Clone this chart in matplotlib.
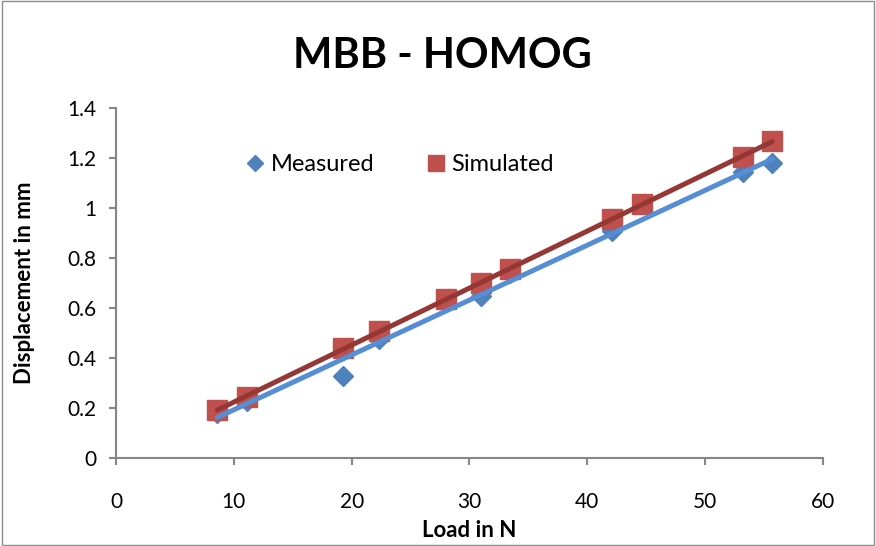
import numpy as np
import matplotlib
matplotlib.use("Agg")
import matplotlib.pyplot as plt
from matplotlib.patches import Rectangle

plt.rcParams['font.family'] = ['Lato', 'DejaVu Sans']

# Load (N) and displacement (mm)
measured_load = [8.6, 11.15, 19.3, 22.3, 31.0, 33.4, 42.1, 53.2, 55.7]
measured_disp = [0.18, 0.23, 0.33, 0.475, 0.65, 0.74, 0.91, 1.145, 1.18]

simulated_load = [8.6, 11.15, 19.3, 22.3, 28.0, 31.0, 33.4, 42.1, 44.6, 53.2, 55.7]
simulated_disp = [0.195, 0.245, 0.44, 0.51, 0.635, 0.70, 0.755, 0.955, 1.015, 1.205, 1.27]

x_ticks = [0, 10, 20, 30, 40, 50, 60]
y_ticks = [0, 0.2, 0.4, 0.6, 0.8, 1, 1.2, 1.4]
y_tick_labels = ['0', '0.2', '0.4', '0.6', '0.8', '1', '1.2', '1.4']

blue_mk = '#4F81BD'
red_mk = '#C0504D'
blue_ln = '#558ED5'
red_ln = '#953735'
axis_gray = '#868686'

fig = plt.figure(figsize=(8.76, 5.46), dpi=100)
fig.patches.append(Rectangle((0.002, 0.002), 0.996, 0.996, transform=fig.transFigure,
                             fill=False, edgecolor='#8C8C8C', linewidth=1.0))
ax = fig.add_axes([0.1324, 0.1606, 0.8071, 0.6416])

ax.plot(measured_load, measured_disp, linestyle='none', marker='D', markersize=10,
        color=blue_mk, label='Measured', zorder=3)
ax.plot(simulated_load, simulated_disp, linestyle='none', marker='s', markersize=14,
        color=red_mk, label='Simulated', zorder=4)

# Linear trendlines
for xs, ys, c in ((measured_load, measured_disp, blue_ln),
                  (simulated_load, simulated_disp, red_ln)):
    k, b = np.polyfit(xs, ys, 1)
    xx = np.array([min(xs), max(xs)])
    ax.plot(xx, k * xx + b, color=c, linewidth=3.6, solid_capstyle='round', zorder=5)

ax.set_xlim(0, 60)
ax.set_ylim(0, 1.4)
ax.set_xticks(x_ticks)
ax.set_yticks(y_ticks)
ax.set_yticklabels(y_tick_labels)
for s in ('top', 'right'):
    ax.spines[s].set_visible(False)
for s in ('left', 'bottom'):
    ax.spines[s].set_color(axis_gray)
    ax.spines[s].set_linewidth(1.5)
ax.tick_params(axis='both', direction='out', length=5, width=1.5, color=axis_gray,
               labelsize=15, labelcolor='black')
ax.tick_params(axis='x', pad=19)
ax.tick_params(axis='y', pad=9)

ax.set_xlabel('Load in N', fontsize=16, fontweight='bold')
ax.xaxis.set_label_coords(0.5, -0.175)
ax.set_ylabel('Displacement in mm', fontsize=16, fontweight='bold')
ax.yaxis.set_label_coords(-0.114, 0.5)
fig.text(0.505, 0.898, 'MBB - HOMOG', ha='center', va='center', fontsize=30, fontweight='bold')

ax.legend(loc='upper left', bbox_to_anchor=(0.147, 0.93), ncol=2, frameon=False,
          fontsize=17, columnspacing=2.0, handletextpad=0.05, handlelength=1.2,
          markerscale=0.85)

fig.savefig('out.png', dpi=100)
